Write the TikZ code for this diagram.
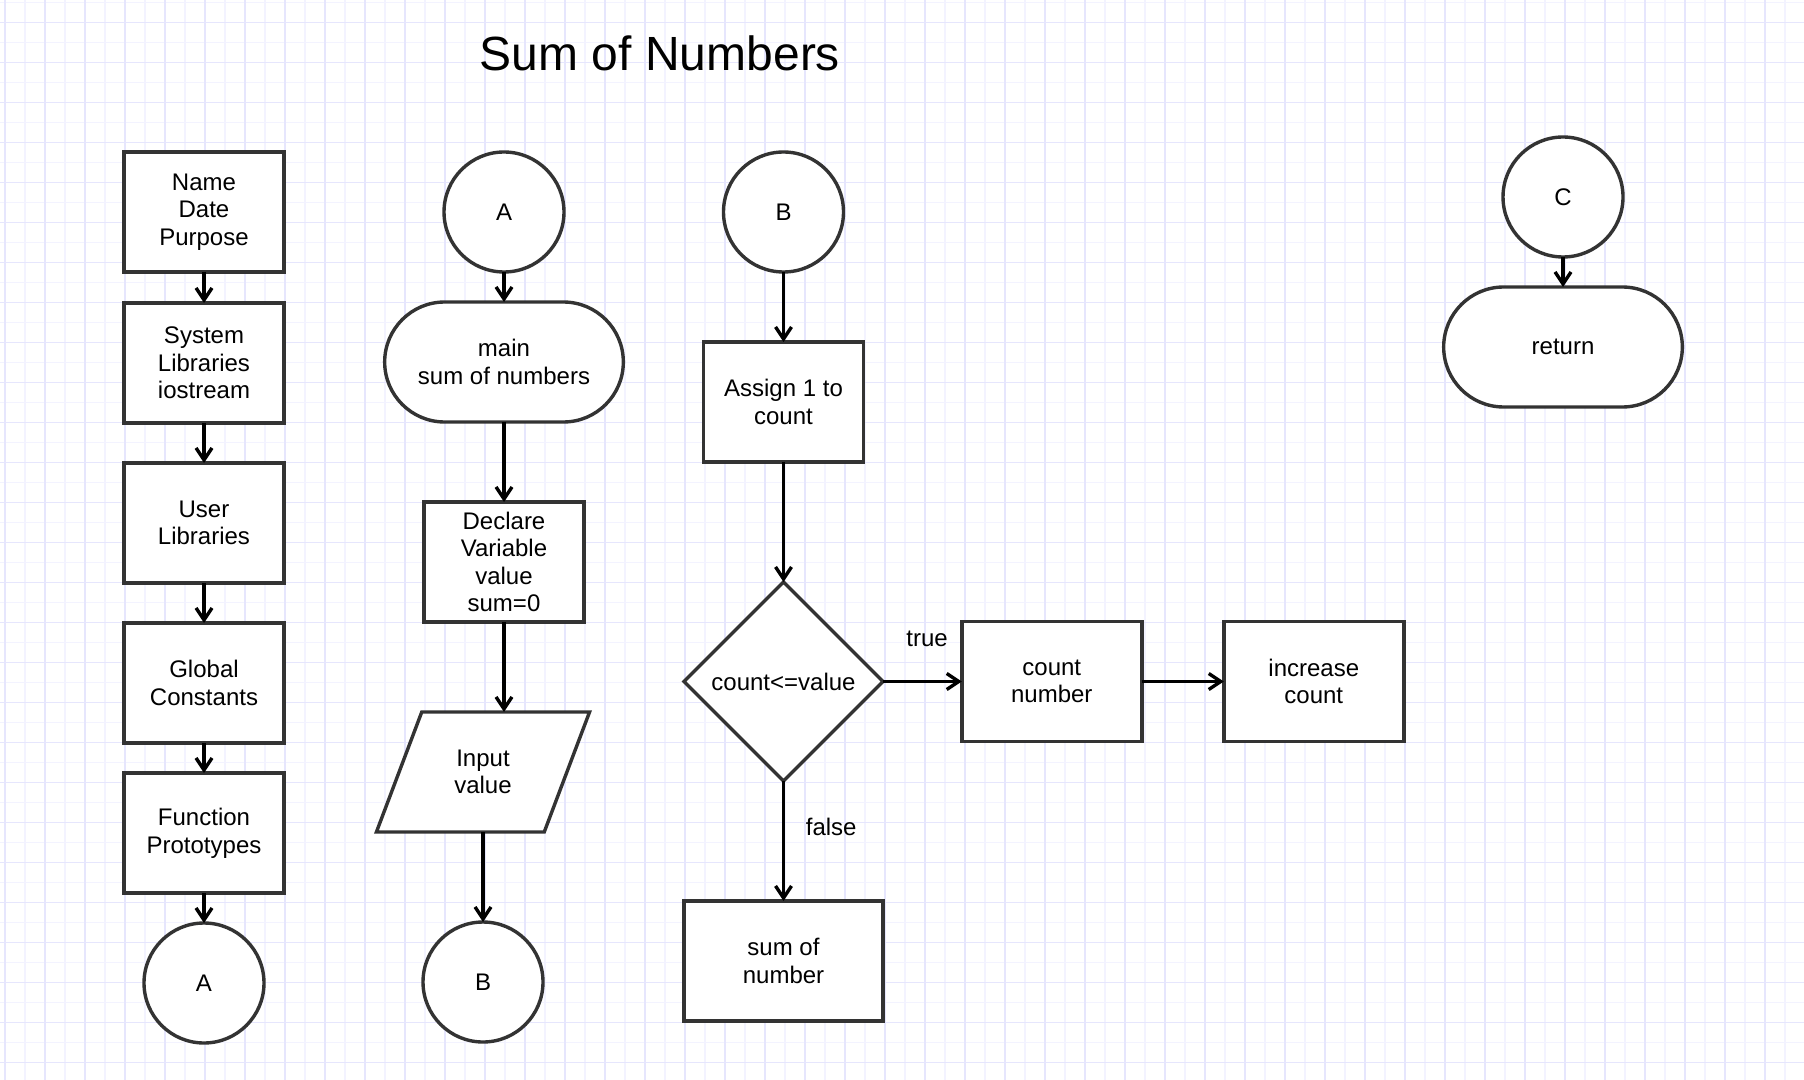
\documentclass[tikz,border=0pt]{standalone}
\usepackage{fontspec}
\setmainfont{Liberation Sans}
\usetikzlibrary{arrows.meta,positioning,shapes.geometric,shapes.misc}
\definecolor{gridmajor}{RGB}{230,230,253}
\definecolor{gridminor}{RGB}{243,243,255}
\definecolor{edgegray}{RGB}{51,51,51}

\begin{document}
\begin{tikzpicture}[
                x=0.5pt, y=-0.5pt,
                node distance = 15pt,
                font=\fontsize{12}{13.8}\selectfont,
                FlowBox/.style={draw=edgegray, fill=white, line width=1.7pt, align=center, inner sep=2pt, minimum width=80pt, minimum height=60pt, outer sep=0pt},
                FlowCircle/.style={draw=edgegray, fill=white, line width=1.7pt, circle, minimum size=60pt, outer sep=0pt},
                FlowTerm/.style={draw=edgegray, fill=white, line width=1.7pt, rounded rectangle, align=center, minimum width=126pt, minimum height=60pt, outer sep=0pt},
                FlowIO/.style={draw=edgegray, fill=white, line width=1.7pt, trapezium, trapezium left angle=65.6, trapezium right angle=114.4, trapezium stretches, align=center, minimum width=107pt, minimum height=60pt, outer sep=0pt},
                FlowDecision/.style={draw=edgegray, fill=white, line width=1.7pt, diamond, aspect=1, inner sep=0pt, minimum width=99.5pt, minimum height=99.5pt, outer sep=0pt},
                FlowArrow/.style={-{Straight Barb[length=6pt, width=8pt]}, line width=1.7pt},
                GridMajor/.style={draw=gridmajor, line width=0.65pt},
                GridMinor/.style={draw=gridminor, line width=0.65pt},
            ]
            % paper
            \fill[white] (0,0) rectangle (1804,1080);
            \useasboundingbox (0,0) rectangle (1804,1080);
            \foreach \x in {25,65,...,1785} \draw[GridMinor] (\x,0) -- (\x,1080);
            \foreach \y in {2.7,42.7,...,1042.7} \draw[GridMinor] (0,\y) -- (1804,\y);
            \foreach \x in {5,45,...,1765} \draw[GridMajor] (\x,0) -- (\x,1080);
            \foreach \y in {22.7,62.7,...,1062.7} \draw[GridMajor] (0,\y) -- (1804,\y);

            \node[font=\fontsize{24}{28}\selectfont] (title) at (660,53) {Sum of Numbers};

            % header
            \node [FlowBox] (info) at (204,212) {Name\\Date\\Purpose};
            \node [FlowBox, below=15.5pt of info] (syslib) {System\\Libraries\\iostream};
            \node [FlowBox, below=20pt of syslib] (userlib) {User\\Libraries};
            \node [FlowBox, below=20pt of userlib] (global) {Global\\Constants};
            \node [FlowBox, below=15pt of global] (proto) {Function\\Prototypes};
            \node [FlowCircle, below=15pt of proto] (toA) {A};

            % main
            \node [FlowCircle] (fromA) at (504,212) {A};
            \node [FlowTerm, below=15pt of fromA] (main) {main\\sum of numbers};
            \node [FlowBox, below=40pt of main] (declare) {Declare\\Variable\\value\\sum=0};
            \node [FlowIO] (input) at (483,772) {Input\\value};
            \node [FlowCircle, below=45pt of input] (toB) {B};

            % loop
            \node [FlowCircle] (fromB) at (783.5,212) {B};
            \node [FlowBox, below=35pt of fromB] (assign) {Assign 1 to\\count};
            \node [FlowDecision, below=60pt of assign] (check) {count<=value};
            \node [FlowBox, minimum width=99.5pt, below=60pt of check] (total) {sum of\\number};
            \node [FlowBox, minimum width=90pt, right=39.4pt of check] (countnum) {count\\number};
            \node [FlowBox, minimum width=90pt, right=41pt of countnum] (increase) {increase\\count};

            \node [FlowCircle] (fromC) at (1563,197) {C};
            \node [FlowTerm, below=15pt of fromC] (ret) {return};

            \foreach \a/\b in {info/syslib, syslib/userlib, userlib/global, global/proto, proto/toA}
                \draw[FlowArrow] (\a.south) -- (\b.north);
            \draw[FlowArrow] (fromA.south) -- (main.north);
            \draw[FlowArrow] (main.south) -- (declare.north);
            \draw[FlowArrow] (declare.south) -- (declare.south |- input.north);
            \draw[FlowArrow] (input.south) -- (toB.north);
            \draw[FlowArrow] (fromB.south) -- (assign.north);
            \draw[FlowArrow] (assign.south) -- (check.north);
            \draw[FlowArrow] (check.east) -- node[pos=0.56, above=13pt] {true} (countnum.west);
            \draw[FlowArrow] (check.south) -- node[pos=0.385, right=7pt] {false} (total.north);
            \draw[FlowArrow] (countnum.east) -- (increase.west);
            \draw[FlowArrow] (fromC.south) -- (ret.north);
        \end{tikzpicture}
\end{document}
